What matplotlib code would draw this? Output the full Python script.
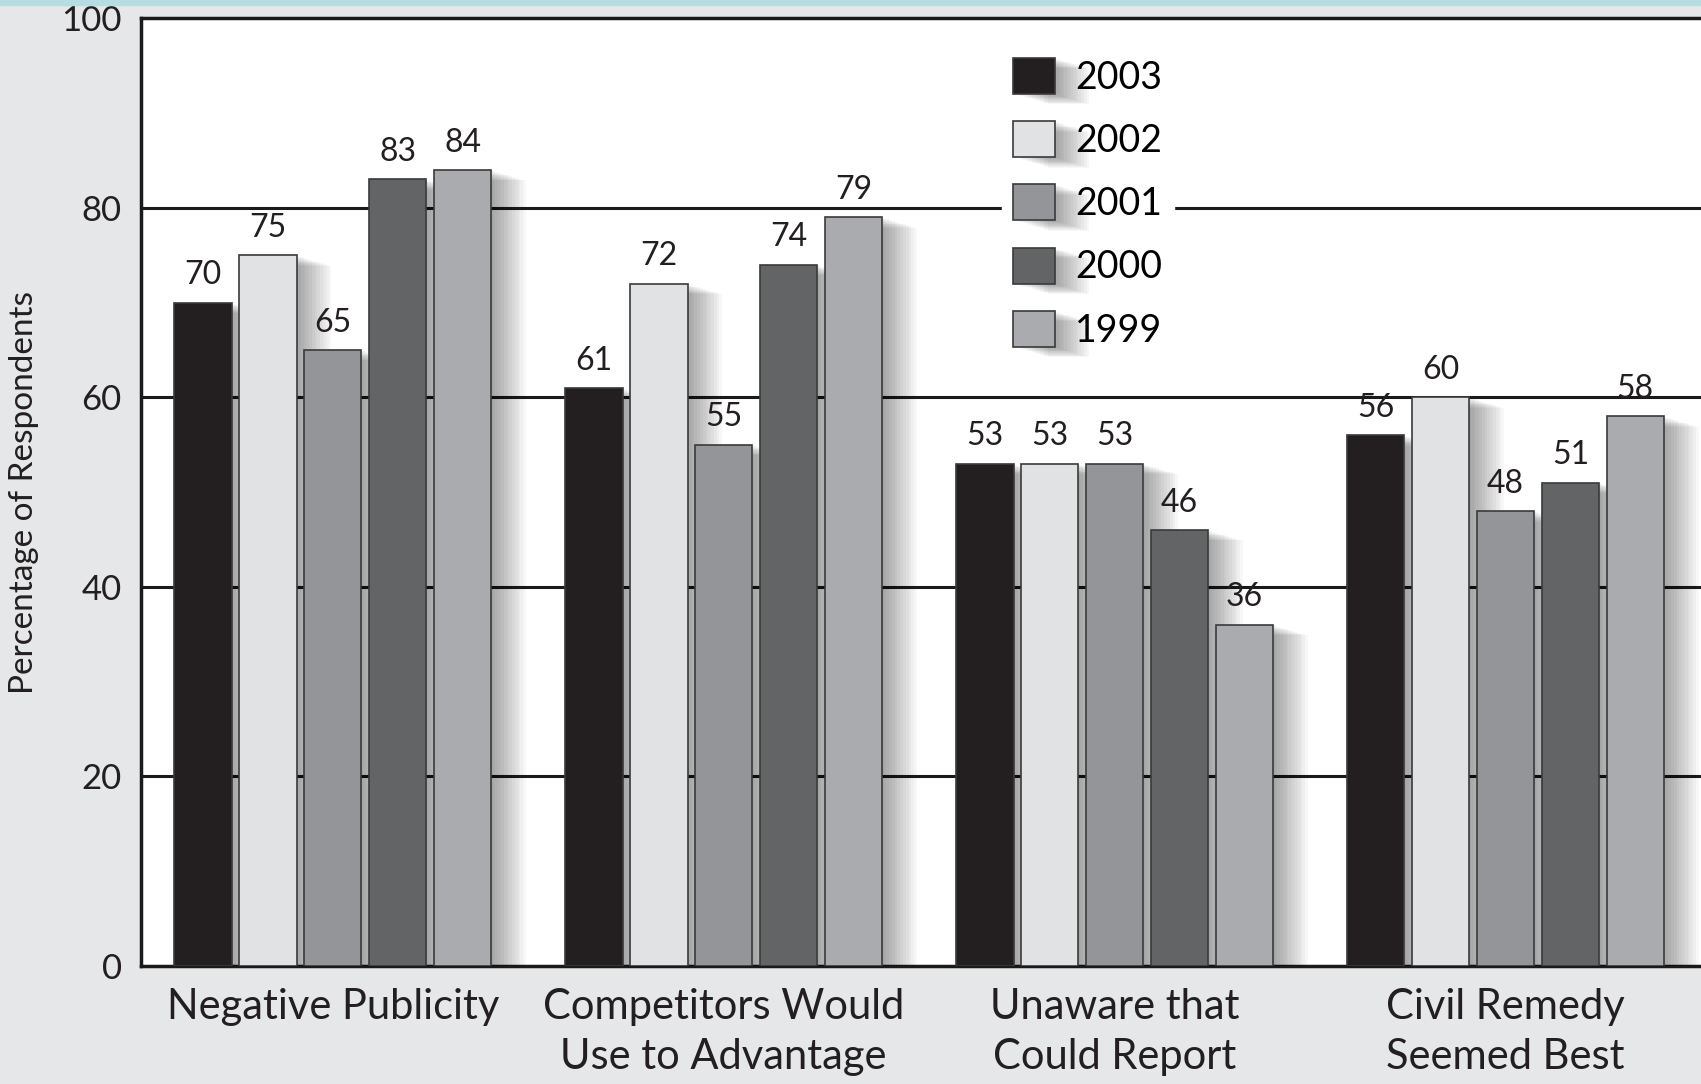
import numpy as np
import matplotlib.pyplot as plt
import matplotlib.patheffects as pe
from matplotlib.patches import Rectangle

categories = ["Negative Publicity", "Competitors Would\nUse to Advantage",
              "Unaware that\nCould Report", "Civil Remedy\nSeemed Best"]
years = ["2003", "2002", "2001", "2000", "1999"]
values = {
    "2003": [70, 61, 53, 56],
    "2002": [75, 72, 53, 60],
    "2001": [65, 55, 53, 48],
    "2000": [83, 74, 46, 51],
    "1999": [84, 79, 36, 58],
}
colors = ["#231f20", "#e1e2e4", "#939598", "#636466", "#a9abae"]

plt.rcParams['font.family'] = ['Lato', 'DejaVu Sans']

fig = plt.figure(figsize=(17.01, 10.84), dpi=100)
fig.patch.set_facecolor("#e6e7e8")
fig.patches.append(Rectangle((0, 0.995), 1, 0.005, transform=fig.transFigure,
                             color="#b5dde2", zorder=0))
ax = fig.add_axes([0.083, 0.109, 0.917, 0.874])
ax.set_facecolor("white")

x = np.arange(len(categories))
step = 0.166
width = 0.147
# soft drop shadow to the right of each bar
shadow = [pe.SimplePatchShadow(offset=(k, -k * 0.3), shadow_rgbFace='k', alpha=0.03)
          for k in range(1, 26, 2)] + [pe.Normal()]

for i, yr in enumerate(years):
    pos = x + (i - 2) * step
    bars = ax.bar(pos, values[yr], width, color=colors[i], edgecolor="#3a3a3a",
                  linewidth=1.2, label=yr, zorder=3)
    for b in bars:
        b.set_path_effects(shadow)
    for p, v in zip(pos, values[yr]):
        ax.text(p, v + 1.3, str(v), ha="center", va="bottom", fontsize=23,
                color="#231f20", zorder=5)

ax.set_xlim(-0.49, 3.50)
ax.set_ylim(0, 100)
ax.set_yticks([0, 20, 40, 60, 80, 100])
for yv in [20, 40, 60, 80]:
    ax.axhline(yv, color="#1a1a1a", linewidth=2.2, zorder=1)
ax.set_xticks(x)
ax.set_xticklabels(categories, fontsize=30, linespacing=1.4, color="#231f20")
ax.tick_params(axis="both", length=0, colors="#231f20")
ax.tick_params(axis="y", labelsize=25, pad=14)
ax.tick_params(axis="x", pad=16)
ax.set_ylabel("Percentage of Respondents", fontsize=24, color="#231f20", labelpad=16)

for s in ["left", "bottom", "top"]:
    ax.spines[s].set_linewidth(2.5)
    ax.spines[s].set_color("#1a1a1a")
ax.spines["right"].set_visible(False)

leg = ax.legend(loc="upper left", bbox_to_anchor=(0.54, 0.99), fontsize=27,
                frameon=True, facecolor="white", edgecolor="white", framealpha=1,
                handlelength=1.1, handleheight=1.1, labelspacing=0.68,
                handletextpad=0.55, borderpad=0.3)
leg.set_zorder(6)

plt.savefig("out.png", dpi=100, facecolor=fig.get_facecolor())
